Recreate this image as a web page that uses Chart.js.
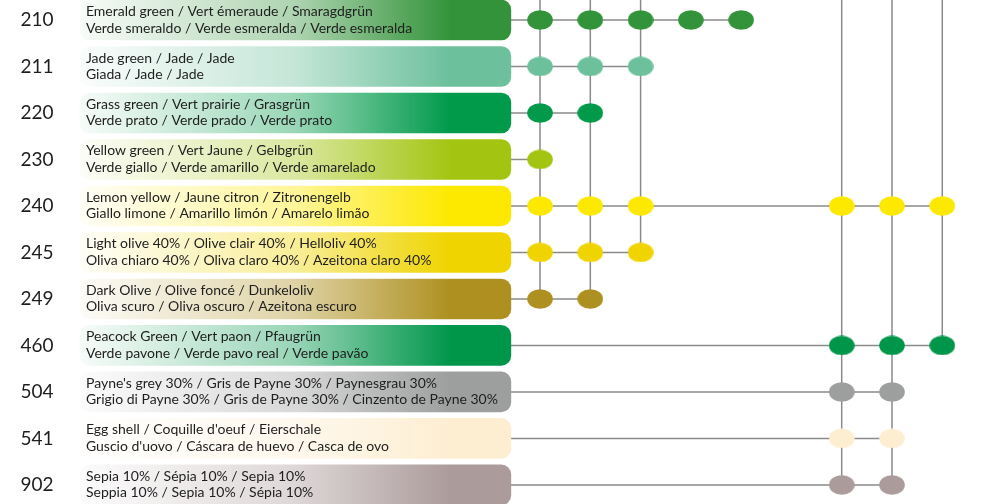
<!DOCTYPE html>
<html>
<head>
<meta charset="utf-8">
<script src="https://cdn.jsdelivr.net/npm/chart.js"></script>
<style>
  html, body { margin: 0; padding: 0; background: #fff; }
  #wrap { width: 982px; height: 504px; }
</style>
</head>
<body>
<div id="wrap"><canvas id="chart" width="982" height="504"></canvas></div>
<script>
// colour codes, top to bottom
const codes = ['210', '211', '220', '230', '240', '245', '249', '460', '504', '541', '902'];

const namesTop = [
    'Emerald green / Vert émeraude / Smaragdgrün',
    'Jade green / Jade / Jade',
    'Grass green / Vert prairie / Grasgrün',
    'Yellow green / Vert Jaune / Gelbgrün',
    'Lemon yellow / Jaune citron / Zitronengelb',
    'Light olive 40% / Olive clair 40% / Helloliv 40%',
    'Dark Olive / Olive foncé / Dunkeloliv',
    'Peacock Green / Vert paon / Pfaugrün',
    "Payne's grey 30% / Gris de Payne 30% / Paynesgrau 30%",
    "Egg shell / Coquille d'oeuf / Eierschale",
    'Sepia 10% / Sépia 10% / Sepia 10%'
];

const namesBottom = [
    'Verde smeraldo / Verde esmeralda / Verde esmeralda',
    'Giada / Jade / Jade',
    'Verde prato / Verde prado / Verde prato',
    'Verde giallo / Verde amarillo / Verde amarelado',
    'Giallo limone / Amarillo limón / Amarelo limão',
    'Oliva chiaro 40% / Oliva claro 40% / Azeitona claro 40%',
    'Oliva scuro / Oliva oscuro / Azeitona escuro',
    'Verde pavone / Verde pavo real / Verde pavão',
    'Grigio di Payne 30% / Gris de Payne 30% / Cinzento de Payne 30%',
    "Guscio d'uovo / Cáscara de huevo / Casca de ovo",
    'Seppia 10% / Sepia 10% / Sépia 10%'
];

const colors = ['#33933a', '#6cc09c', '#009a4a', '#a3c512', '#fde800', '#efd400',
                '#ae9020', '#00964a', '#9d9e9e', '#fdeed2', '#ac9b9b'];

// which columns hold a dot for each row
const dotColumns = [
    [0, 1, 2, 3, 4],
    [0, 1, 2],
    [0, 1],
    [0],
    [0, 1, 2, 6, 7, 8],
    [0, 1, 2],
    [0, 1],
    [6, 7, 8],
    [6, 7],
    [6, 7],
    [6, 7]
];

// vertical connectors: column and the last row they reach
const verticalCols = [0, 1, 2, 6, 7, 8];
const verticalEnds = [6, 6, 5, 10, 10, 7];

// layout (in scale units)
const X_MIN = -10.74, X_MAX = 8.79;
const Y_MIN = -0.43, Y_MAX = 10.41;
const BAR_START = -9.15, BAR_END = -0.58;
const LINE_COLOR = '#8a8a8a';

function makeDot(color) {
    const c = document.createElement('canvas');
    c.width = 26;
    c.height = 20;
    const g = c.getContext('2d');
    g.fillStyle = color;
    g.beginPath();
    g.ellipse(13, 10, 12.8, 9.8, 0, 0, Math.PI * 2);
    g.fill();
    return c;
}

function hexToRgba(hex, a) {
    const n = parseInt(hex.slice(1), 16);
    return 'rgba(' + (n >> 16) + ',' + ((n >> 8) & 255) + ',' + (n & 255) + ',' + a + ')';
}

const datasets = [];

// row connectors
codes.forEach((code, i) => {
    const last = Math.max(...dotColumns[i]);
    datasets.push({
        type: 'line',
        data: [{ x: BAR_END, y: i }, { x: last, y: i }],
        borderColor: LINE_COLOR,
        borderWidth: 1.5,
        pointRadius: 0,
        order: 3
    });
});

// column connectors
verticalCols.forEach((col, k) => {
    datasets.push({
        type: 'line',
        data: [{ x: col, y: Y_MIN }, { x: col, y: verticalEnds[k] }],
        borderColor: LINE_COLOR,
        borderWidth: 1.5,
        pointRadius: 0,
        order: 3
    });
});

// gradient name bars
datasets.push({
    type: 'bar',
    indexAxis: 'y',
    data: codes.map((code, i) => ({ x: [BAR_START, BAR_END], y: i })),
    barThickness: 40,
    borderRadius: 10,
    borderSkipped: false,
    backgroundColor: (ctx) => {
        const chart = ctx.chart;
        if (!chart.chartArea) return colors[ctx.dataIndex] || '#ccc';
        const xs = chart.scales.x;
        const x0 = xs.getPixelForValue(BAR_START);
        const x1 = xs.getPixelForValue(BAR_END);
        const col = colors[ctx.dataIndex];
        const grad = chart.ctx.createLinearGradient(x0, 0, x1, 0);
        grad.addColorStop(0, hexToRgba(col, 0.03));
        grad.addColorStop(0.5, hexToRgba(col, 0.4));
        grad.addColorStop(0.86, hexToRgba(col, 1));
        grad.addColorStop(1, hexToRgba(col, 1));
        return grad;
    },
    order: 2
});

// dots
codes.forEach((code, i) => {
    datasets.push({
        type: 'scatter',
        data: dotColumns[i].map(c => ({ x: c, y: i })),
        pointStyle: makeDot(colors[i]),
        pointRadius: 10,
        showLine: false,
        order: 1
    });
});

const labelPlugin = {
    id: 'rowLabels',
    afterDatasetsDraw(chart) {
        const g = chart.ctx;
        const xs = chart.scales.x, ys = chart.scales.y;
        const textX = xs.getPixelForValue(BAR_START) + 6;
        g.save();
        g.fillStyle = '#1e1e1e';
        g.textBaseline = 'middle';
        codes.forEach((code, i) => {
            const y = ys.getPixelForValue(i);
            g.font = '19px Lato';
            g.textAlign = 'center';
            g.fillText(code, 37, y);
            g.font = '14px Lato';
            g.textAlign = 'left';
            g.fillText(namesTop[i], textX, y - 8.5);
            g.fillText(namesBottom[i], textX, y + 8);
        });
        g.restore();
    }
};

new Chart(document.getElementById('chart'), {
    data: { datasets: datasets },
    options: {
        responsive: false,
        animation: false,
        layout: { padding: 0, autoPadding: false },
        plugins: { legend: { display: false }, tooltip: { enabled: false } },
        scales: {
            x: { type: 'linear', min: X_MIN, max: X_MAX, offset: false, display: false },
            y: { type: 'linear', min: Y_MIN, max: Y_MAX, reverse: true, offset: false, display: false }
        }
    },
    plugins: [labelPlugin]
});
</script>
</body>
</html>
